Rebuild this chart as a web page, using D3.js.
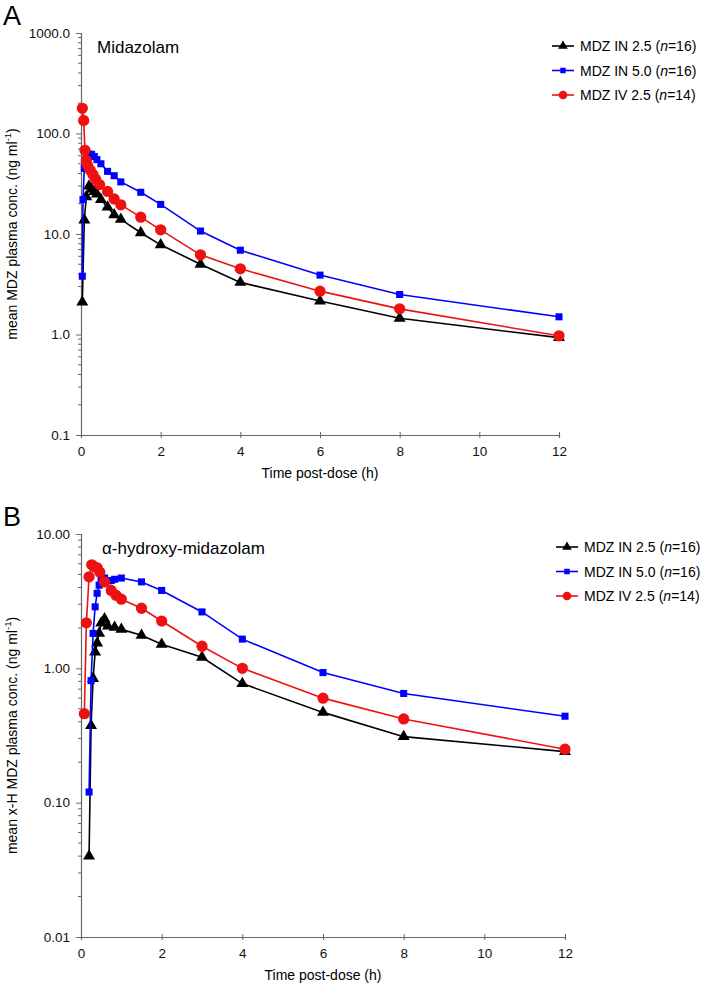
<!DOCTYPE html>
<html>
<head>
<meta charset="utf-8">
<script src="https://cdn.jsdelivr.net/npm/d3@7"></script>
<style>
  body { margin: 0; background: #fff; }
  svg text { font-family: "Liberation Sans", Arial, sans-serif; }
</style>
</head>
<body>
<div id="my_dataviz"></div>
<script>
// ---- data ----
const seriesNames = ["MDZ IN 2.5", "MDZ IN 5.0", "MDZ IV 2.5"]
const seriesN = [16, 16, 14]
const xTicks = [0, 2, 4, 6, 8, 10, 12]

// panel A: midazolam
const timesA_in25 = [0.033, 0.083, 0.133, 0.2, 0.267, 0.333, 0.4, 0.5, 0.667, 0.833, 1, 1.5, 2, 3, 4, 6, 8, 12]
const concA_in25 = [2.1, 13.8, 23.5, 30, 28, 26.5, 25, 22, 18.5, 15.5, 14, 10.3, 7.8, 5.0, 3.3, 2.15, 1.45, 0.93]
const timesA_in50 = [0.033, 0.05, 0.083, 0.133, 0.2, 0.267, 0.333, 0.4, 0.5, 0.667, 0.833, 1, 1.5, 2, 3, 4, 6, 8, 12]
const concA_in50 = [3.8, 22, 45, 61, 62.5, 62, 59, 55, 50, 42, 38, 33, 26, 19.7, 10.7, 6.9, 3.9, 2.5, 1.5]
const timesA_iv25 = [0.033, 0.067, 0.1, 0.133, 0.167, 0.233, 0.3, 0.367, 0.467, 0.667, 0.833, 1, 1.5, 2, 3, 4, 6, 8, 12]
const concA_iv25 = [178, 135, 68, 54, 48, 43, 39, 35, 31, 26.5, 22.3, 19.5, 14.7, 11, 6.2, 4.5, 2.7, 1.8, 0.97]
const yTicksA = [0.1, 1, 10, 100, 1000]

// panel B: alpha-hydroxy-midazolam
const timesB_in25 = [0.2, 0.25, 0.3, 0.35, 0.4, 0.45, 0.5, 0.583, 0.667, 0.833, 1, 1.5, 2, 3, 4, 6, 8, 12]
const concB_in25 = [0.04, 0.375, 0.84, 1.32, 1.54, 1.82, 2.17, 2.33, 2.06, 2.02, 1.95, 1.76, 1.51, 1.21, 0.77, 0.47, 0.31, 0.24]
const timesB_in50 = [0.2, 0.25, 0.3, 0.35, 0.4, 0.45, 0.5, 0.583, 0.667, 0.75, 0.833, 1, 1.5, 2, 3, 4, 6, 8, 12]
const concB_in50 = [0.12, 0.81, 1.82, 2.87, 3.62, 4.16, 4.5, 4.7, 4.48, 4.5, 4.6, 4.7, 4.4, 3.8, 2.63, 1.65, 0.93, 0.65, 0.44]
const timesB_iv25 = [0.083, 0.133, 0.2, 0.267, 0.333, 0.4, 0.467, 0.583, 0.75, 0.867, 1, 1.5, 2, 3, 4, 6, 8, 12]
const concB_iv25 = [0.46, 2.18, 4.8, 5.9, 5.7, 5.6, 5.2, 4.4, 3.8, 3.5, 3.27, 2.8, 2.25, 1.46, 1.0, 0.6, 0.42, 0.25]
const yTicksB = [0.01, 0.1, 1, 10]

const colors = ["#000000", "#0000ff", "#ee1111"]
const symbols = [d3.symbolTriangle, d3.symbolSquare, d3.symbolCircle]
const symSize = [62, 50, 100]
const legSize = [40, 30, 60]

const W = 709, H = 990
const svg = d3.select("#my_dataviz")
    .append("svg")
    .attr("width", W)
    .attr("height", H)

function zip(t, c) {
    return t.map((d, i) => ({t: d, c: c[i]}))
}

function drawPanel(p) {
    const g = svg.append("g")

    const x = d3.scaleLinear().domain([0, 12]).range([p.left, p.right])
    const y = d3.scaleLog().domain(p.yDomain).range([p.bottom, p.top])

    // minor log ticks 2..9 in every decade
    const minor = []
    for (let e = Math.log10(p.yDomain[0]); e < Math.log10(p.yDomain[1]); e++) {
        for (let k = 2; k <= 9; k++) minor.push(k * Math.pow(10, e))
    }
    g.append("g")
        .attr("transform", `translate(${p.left},0)`)
        .call(d3.axisLeft(y).tickValues(p.yTicks).tickSize(5).tickPadding(6)
            .tickFormat(d => d3.format(p.fmt)(d)))
    g.append("g")
        .attr("transform", `translate(${p.left},0)`)
        .selectAll("line")
        .data(minor)
        .join("line")
        .attr("x1", -3).attr("x2", 0)
        .attr("y1", d => y(d)).attr("y2", d => y(d))
        .attr("stroke", "#666")

    const xAxis = g.append("g")
        .attr("transform", `translate(0,${p.bottom})`)
        .call(d3.axisBottom(x).tickValues(xTicks).tickSize(3).tickPadding(8))
    xAxis.selectAll(".tick line").attr("y1", -3).attr("y2", 3)

    g.selectAll(".domain").attr("stroke", "#666").attr("stroke-width", 1.2)
    g.selectAll(".tick line").attr("stroke", "#666")
    g.selectAll(".tick text").attr("font-size", 13.5).attr("fill", "#111")

    // series
    p.series.forEach((s, i) => {
        const data = zip(s.t, s.c)
        g.append("path")
            .datum(data)
            .attr("fill", "none")
            .attr("stroke", colors[i])
            .attr("stroke-width", 1.6)
            .attr("d", d3.line().x(d => x(d.t)).y(d => y(d.c)))
        g.selectAll(null)
            .data(data)
            .join("path")
            .attr("transform", d => `translate(${x(d.t)},${y(d.c)})`)
            .attr("d", d3.symbol(symbols[i], symSize[i]))
            .attr("fill", colors[i])
    })

    // panel letter and compound name
    g.append("text").attr("x", 3).attr("y", p.top - 8)
        .attr("font-size", 27).text(p.letter)
    g.append("text").attr("x", p.titleX).attr("y", p.top + 20)
        .attr("font-size", 17).text(p.title)

    // axis titles
    g.append("text")
        .attr("x", (p.left + p.right) / 2).attr("y", p.bottom + 43)
        .attr("text-anchor", "middle").attr("font-size", 14)
        .text("Time post-dose (h)")
    const yl = g.append("text")
        .attr("transform", `translate(17,${(p.top + p.bottom) / 2}) rotate(-90)`)
        .attr("text-anchor", "middle").attr("font-size", 14)
    yl.append("tspan").text(p.yLabel + " (ng ml")
    yl.append("tspan").attr("font-size", 9.5).attr("dy", -6).text("-1")
    yl.append("tspan").attr("dy", 6).text(")")

    // legend
    const lg = g.append("g").attr("transform", `translate(${p.legX},${p.legY})`)
    seriesNames.forEach((name, i) => {
        const row = lg.append("g").attr("transform", `translate(0,${i * 24.5})`)
        row.append("line").attr("x1", 0).attr("x2", 22).attr("stroke", colors[i]).attr("stroke-width", 1.6)
        row.append("path").attr("transform", "translate(11,0)")
            .attr("d", d3.symbol(symbols[i], legSize[i])).attr("fill", colors[i])
        const t = row.append("text").attr("x", 28).attr("y", 5).attr("font-size", 14)
        t.append("tspan").text(name + " (")
        t.append("tspan").attr("font-style", "italic").text("n")
        t.append("tspan").text("=" + seriesN[i] + ")")
    })
}

drawPanel({
    letter: "A", title: "Midazolam", titleX: 97,
    left: 81, right: 559, top: 33, bottom: 435,
    yDomain: [0.1, 1000], yTicks: yTicksA, fmt: ".1f",
    yLabel: "mean MDZ plasma conc.",
    legX: 552, legY: 46,
    series: [
        {t: timesA_in25, c: concA_in25},
        {t: timesA_in50, c: concA_in50},
        {t: timesA_iv25, c: concA_iv25}
    ]
})

drawPanel({
    letter: "B", title: "\u03b1-hydroxy-midazolam", titleX: 102,
    left: 81, right: 565, top: 534, bottom: 937,
    yDomain: [0.01, 10], yTicks: yTicksB, fmt: ".2f",
    yLabel: "mean x-H MDZ plasma conc.",
    legX: 556, legY: 547,
    series: [
        {t: timesB_in25, c: concB_in25},
        {t: timesB_in50, c: concB_in50},
        {t: timesB_iv25, c: concB_iv25}
    ]
})
</script>
</body>
</html>
